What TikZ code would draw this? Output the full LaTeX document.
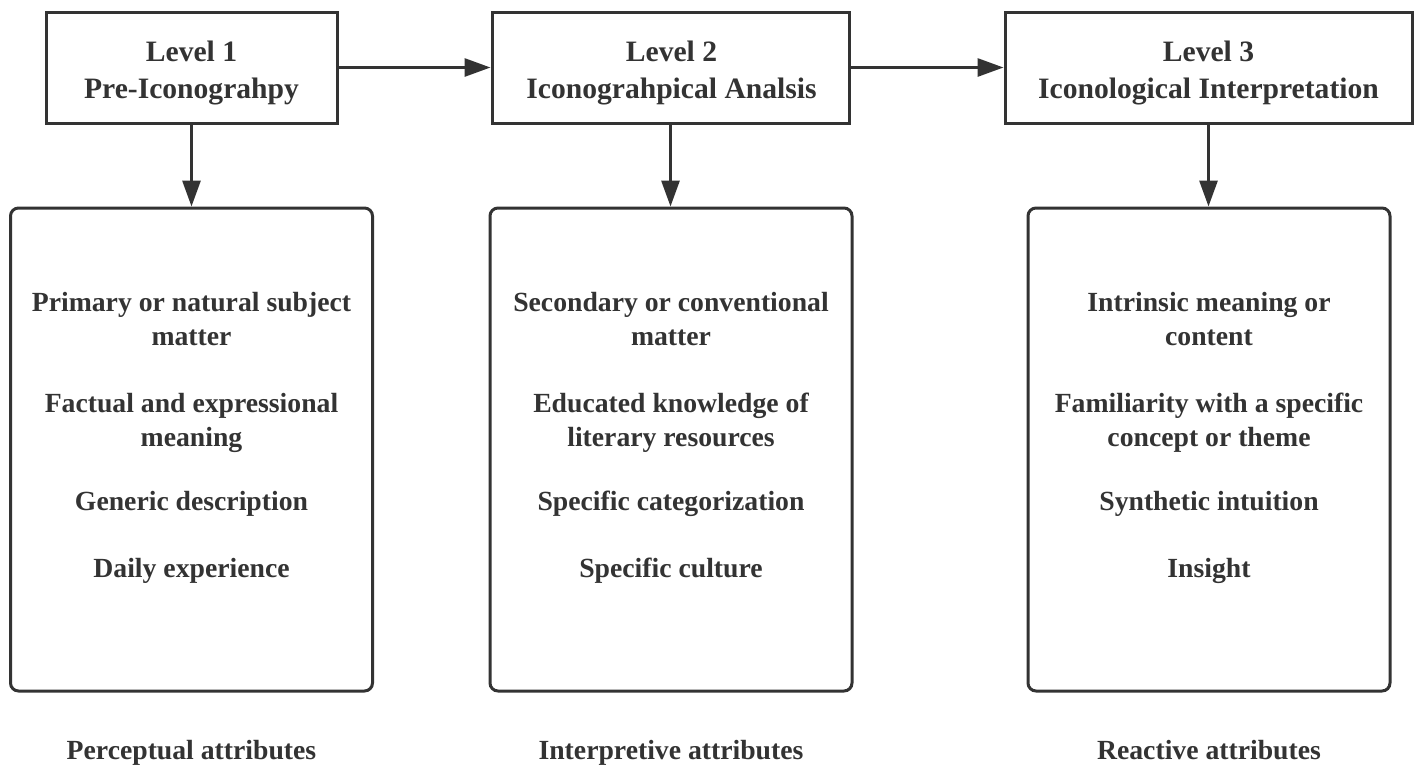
\documentclass[tikz,border=0pt]{standalone}
\usepackage{fontspec}
\setmainfont{Liberation Serif}
\usetikzlibrary{arrows.meta}
\definecolor{ink}{HTML}{333333}
\begin{document}
\begin{tikzpicture}[x=1pt,y=-1pt,
  levelbox/.style={draw=ink,line width=3pt,inner sep=0pt,minimum height=111pt},
  leveltext/.style={align=center,inner sep=0pt,
    font=\fontsize{29.6}{37}\selectfont\bfseries,text=ink},
  listbox/.style={draw=ink,line width=3pt,rounded corners=8pt,inner sep=0pt,
    minimum width=362pt,minimum height=483pt},
  item/.style={align=center,inner sep=0pt,font=\fontsize{27.7}{34}\selectfont\bfseries,text=ink},
  arr/.style={draw=ink,line width=3pt,-{Triangle[length=26pt,width=18pt]}}]
\useasboundingbox (0,0) rectangle (1419,764);
\fill[white] (0,0) rectangle (1419,764);
% top level boxes
\node[levelbox,minimum width=291pt] (b1) at (191.5,67.5) {};
\node[levelbox,minimum width=357pt] (b2) at (670.5,67.5) {};
\node[levelbox,minimum width=407pt] (b3) at (1208.5,67.5) {};
\node[leveltext] (t1) at (191.5,73) {Level 1\\Pre-Iconograhpy};
\node[leveltext] (t2) at (671.5,73) {Level 2\\Iconograhpical Analsis};
\node[leveltext] (t3) at (1208.5,73) {Level 3\\Iconological Interpretation};
% lower boxes
\node[listbox] (l1) at (191.5,449.5) {};
\node[listbox] (l2) at (671,449.5) {};
\node[listbox] (l3) at (1209,449.5) {};
% arrows
\draw[arr] (b1.east) -- (b2.west);
\draw[arr] (b2.east) -- (b3.west);
\draw[arr] (b1.south) -- (b1.south |- l1.north);
\draw[arr] (b2.south) -- (b2.south |- l2.north);
\draw[arr] (b3.south) -- (b3.south |- l3.north);
% column 1 items
\node[item] (a1) at (191.5,319) {Primary or natural subject\\matter};
\node[item] (a2) at (191.5,422.5) {Factual and expressional\\meaning};
\node[item] (a3) at (191.5,504) {Generic description};
\node[item] (a4) at (191.5,571) {Daily experience};
% column 2 items
\node[item] (c1) at (671,319) {Secondary or conventional\\matter};
\node[item] (c2) at (671,422.5) {Educated knowledge of\\literary resources};
\node[item] (c3) at (671,504) {Specific categorization};
\node[item] (c4) at (671,571) {Specific culture};
% column 3 items
\node[item] (d1) at (1209,319) {Intrinsic meaning or\\content};
\node[item] (d2) at (1209,422.5) {Familiarity with a specific\\concept or theme};
\node[item] (d3) at (1209,504) {Synthetic intuition};
\node[item] (d4) at (1209,571) {Insight};
% bottom labels
\node[item] (p1) at (191.5,753) {Perceptual attributes};
\node[item] (p2) at (671,753) {Interpretive attributes};
\node[item] (p3) at (1209,750) {Reactive attributes};
\end{tikzpicture}
\end{document}
